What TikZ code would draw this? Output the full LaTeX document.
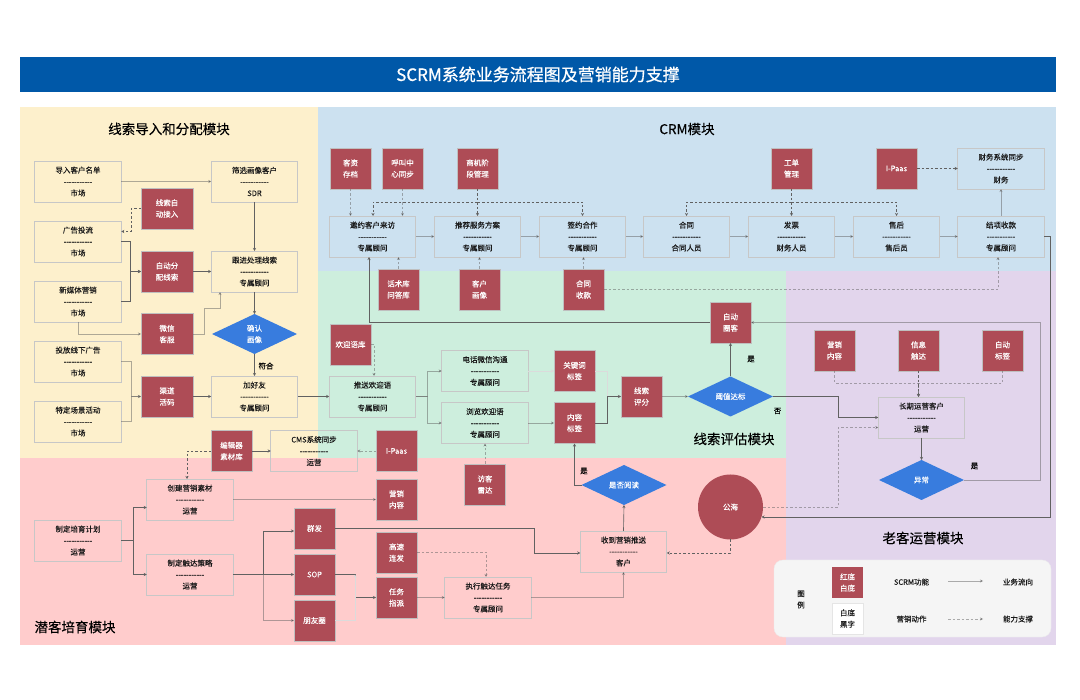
\documentclass[tikz,border=0pt]{standalone}
\usepackage{fontspec}
\setmainfont{Noto Sans CJK SC}[FakeBold=0.2]
\newfontfamily\titlefont{Noto Sans CJK SC}[FakeBold=0.7]
\newfontfamily\sectfont{Noto Sans CJK SC}[FakeBold=0.3]
\usetikzlibrary{arrows.meta,calc,shapes.geometric}
\definecolor{cyel}{HTML}{FDF0CC}
\definecolor{cblu}{HTML}{CCE1F0}
\definecolor{cgrn}{HTML}{CDEEDD}
\definecolor{cpur}{HTML}{E2D5EC}
\definecolor{cpnk}{HTML}{FFCCCC}
\definecolor{ctit}{HTML}{0058A8}
\definecolor{cred}{HTML}{AE4C56}
\definecolor{cdia}{HTML}{387CDE}
\newcommand\dl{-{}-{}-{}-{}-{}-{}-{}-{}-{}-{}-}
\tikzset{
  base/.style={inner sep=0pt,outer sep=0pt,align=center,font=\fontsize{7.5}{11.4}\selectfont,text=black!90},
  box/.style={base,draw=black!22,line width=.7pt,minimum width=86.5pt,minimum height=41pt},
  redbox/.style={base,fill=cred,draw=black!25,line width=.7pt,text=white,minimum width=41pt,minimum height=41pt},
  redwide/.style={redbox,minimum width=52pt},
  dia/.style={base,diamond,aspect=2.125,fill=cdia,text=white,minimum width=85pt,minimum height=40pt},
  seac/.style={base,circle,fill=cred,text=white,minimum size=65pt},
  sect/.style={base,font=\sectfont\fontsize{13.5}{16}\selectfont,text=black},
  lab/.style={base,text=black},
  flow/.style={draw=black!62,line width=.65pt,-{Stealth[length=3pt,width=3pt]}},
  flowl/.style={flow,draw opacity=.5},
  flowfaint/.style={flow,draw=black!14},
  supp/.style={draw=black!62,line width=.65pt,dash pattern=on 2.5pt off 2pt,-{Stealth[length=3pt,width=3pt]}},
  suppl/.style={supp,draw opacity=.5},
}
\begin{document}
\begin{tikzpicture}[x=1pt,y=-1pt]
\useasboundingbox (0,0) rectangle (1080,700);
\fill[white] (0,0) rectangle (1080,700);
% regions
\fill[cyel] (20,107) rectangle (318,458);
\fill[cblu] (318,107) rectangle (1056,271);
\fill[cgrn] (318,271) rectangle (786,458);
\fill[cpur] (786,271) rectangle (1056,645);
\fill[cpnk] (20,458) rectangle (786,645);
\node[base,fill=ctit,text=white,minimum width=1036pt,minimum height=35pt,font=\titlefont\fontsize{17}{20}\selectfont] (title) at (538,74.5) {SCRM系统业务流程图及营销能力支撑};
\node[sect] (s1) at (169,129) {线索导入和分配模块};
\node[sect] (s2) at (687,129) {CRM模块};
\node[sect] (s3) at (734,439) {线索评估模块};
\node[sect] (s4) at (923,538) {老客运营模块};
\node[sect] (s5) at (75,627) {潜客培育模块};
% yellow zone
\node[box] (imp) at (78,181.5) {导入客户名单\\\dl\\市场};
\node[box] (ad) at (78,241.5) {广告投流\\\dl\\市场};
\node[box] (nm) at (78,301.5) {新媒体营销\\\dl\\市场};
\node[box] (off) at (78,361.5) {投放线下广告\\\dl\\市场};
\node[box] (evt) at (78,421.5) {特定场景活动\\\dl\\市场};
\node[box] (sel) at (254.5,181.5) {筛选画像客户\\\dl\\SDR};
\node[box] (fol) at (254.5,271.5) {跟进处理线索\\\dl\\专属顾问};
\node[box] (add) at (254.5,396.5) {加好友\\\dl\\专属顾问};
\node[redwide] (lea) at (167,208.5) {线索自\\动接入};
\node[redwide] (aut) at (167,271.5) {自动分\\配线索};
\node[redwide] (wx) at (167,334) {微信\\客服};
\node[redwide] (chn) at (167,396.5) {渠道\\活码};
\node[dia] (conf) at (254.5,334) {确认\\画像};
\node[redbox] (edit) at (231.5,451) {编辑器\\素材库};
\node[box] (cms) at (314,451) {CMS系统同步\\\dl\\运营};
% CRM zone
\node[box] (inv) at (372.5,236.5) {邀约客户来访\\\dl\\专属顾问};
\node[box] (rec) at (477.5,236.5) {推荐服务方案\\\dl\\专属顾问};
\node[box] (sgn) at (582.5,236.5) {签约合作\\\dl\\专属顾问};
\node[box] (con) at (686.5,236.5) {合同\\\dl\\合同人员};
\node[box] (bil) at (791.5,236.5) {发票\\\dl\\财务人员};
\node[box] (aft) at (896.5,236.5) {售后\\\dl\\售后员};
\node[box] (clo) at (1001,236.5) {结项收款\\\dl\\专属顾问};
\node[box] (fin) at (1001,168.5) {财务系统同步\\\dl\\财务};
\node[redbox] (kz) at (350.5,168.5) {客资\\存档};
\node[redbox] (call) at (402.5,168.5) {呼叫中\\心同步};
\node[redbox] (opp) at (477.5,168.5) {商机阶\\段管理};
\node[redbox] (wo) at (791.5,168.5) {工单\\管理};
\node[redbox] (ip1) at (896.5,168.5) {I-Paas};
\node[redbox] (talk) at (398.5,289.5) {话术库\\问答库};
\node[redbox] (por) at (479.5,289.5) {客户\\画像};
\node[redbox] (pay) at (583.5,289.5) {合同\\收款};
% green zone
\node[redbox] (welc) at (350.5,344.5) {欢迎语库};
\node[box] (push) at (372.5,396.5) {推送欢迎语\\\dl\\专属顾问};
\node[box] (tel) at (485,371) {电话微信沟通\\\dl\\专属顾问};
\node[box] (brw) at (485,423) {浏览欢迎语\\\dl\\专属顾问};
\node[redbox] (kw) at (574.5,371) {关键词\\标签};
\node[redbox] (ct) at (574.5,423) {内容\\标签};
\node[redbox] (sco) at (641.5,396.5) {线索\\评分};
\node[dia] (thr) at (730.5,396.5) {阈值达标};
\node[redbox] (auto) at (730.5,322.5) {自动\\圈客};
% pink zone
\node[redbox] (ip2) at (396.5,451) {I-Paas};
\node[redbox] (mc) at (396.5,499.5) {营销\\内容};
\node[redbox] (rad) at (485,484.5) {访客\\雷达};
\node[dia] (read) at (624,485) {是否阅读};
\node[box] (recv) at (623.5,551.5) {收到营销推送\\\dl\\客户};
\node[box] (exe) at (488,597.5) {执行触达任务\\\dl\\专属顾问};
\node[redbox] (fast) at (396.5,552.5) {高速\\连发};
\node[redbox] (asg) at (396.5,597.5) {任务\\指派};
\node[redbox] (qf) at (314.5,528.5) {群发};
\node[redbox] (sop) at (314.5,574.5) {SOP};
\node[redbox] (pyq) at (314.5,620.5) {朋友圈};
\node[box] (crt) at (190,499.5) {创建营销素材\\\dl\\运营};
\node[box] (pln) at (78,540.5) {制定培育计划\\\dl\\运营};
\node[box] (stg) at (190,574.5) {制定触达策略\\\dl\\运营};
\node[seac] (sea) at (730.5,507) {公海};
% purple zone
\node[redbox] (m2) at (834.5,350.5) {营销\\内容};
\node[redbox] (inf) at (918.5,350.5) {信息\\触达};
\node[redbox] (tag) at (1002.5,350.5) {自动\\标签};
\node[box] (lng) at (921.5,417.5) {长期运营客户\\\dl\\运营};
\node[dia] (ex) at (921.5,480) {异常};
% labels
\node[lab] (l1) at (266,366) {符合};
\node[lab] (l2) at (751,359) {是};
\node[lab] (l3) at (777.5,411) {否};
\node[lab] (l4) at (974.5,466) {是};
\node[lab] (l5) at (584,471) {是};
% business flow
\draw[flowl] (imp.east) -- (sel.west);
\draw[flow] (sel.south) -- (fol.north);
\draw[flow] (ad.east) -- ++(9,0) |- (aut.west);
\draw[flow] (nm.east) -- ++(9,0) |- (aut.west);
\draw[flow] (aut.east) -- (fol.west);
\draw[flowl] (nm.south) |- (wx.west);
\draw[flowl] (wx.east) -- ++(11,0) -- ++(0,-26) -| ($(fol.south)+(-34.5,0)$);
\draw[flow] (fol.south) -- (conf.north);
\draw[flow] (conf.south) -- (add.north);
\draw[flowl] (off.east) -- ++(10,0) |- (chn.west);
\draw[flowl] (evt.east) -- ++(10,0) |- (chn.west);
\draw[flow] (chn.east) -- (add.west);
\draw[flow] (add.east) -- (push.west);
\draw[flowl] (push.east) -- ++(12,0) |- (tel.west);
\draw[flowl] (push.east) -- ++(12,0) |- (brw.west);
\draw[flowfaint] (tel.east) -- (kw.west);
\draw[flowl] (brw.east) -- (ct.west);
\draw[flowfaint] (kw.east) -- ++(12,0) |- (sco.west);
\draw[flow] (ct.east) -- ++(12,0) |- (sco.west);
\draw[flowl] (sco.east) -- (thr.west);
\draw[flow] (thr.north) -- (auto.south);
\draw[flow] (thr.east) -- ++(65,0) |- (lng.west);
\draw[flow] (auto.west) -| ($(inv.south)+(-3.5,0)$);
\draw[flowl] (ex.east) -- ++(76.5,0) |- (auto.east);
\draw[flow] (clo.east) -- ++(6,0) |- ($(sea.center)+(31,10)$);
\draw[flow] (lng.south) -- (ex.north);
\draw[flowl] (inv.east) -- (rec.west);
\draw[flowl] (rec.east) -- (sgn.west);
\draw[flowl] (sgn.east) -- (con.west);
\draw[flowl] (con.east) -- (bil.west);
\draw[flowl] (bil.east) -- (aft.west);
\draw[flowl] (aft.east) -- (clo.west);
\draw[flowl] (clo.north) -- (fin.south);
\draw[flow] (edit.east) -- (cms.west);
\draw[flowl] (crt.east) -- (mc.west);
\draw[flow] (pln.east) -- ++(12,0) |- ($(crt.west)+(0,8)$);
\draw[flow] (pln.east) -- ++(12,0) |- (stg.west);
\draw[flow] (stg.east) -- ++(30,0) |- ($(qf.west)+(0,2.5)$);
\draw[flow] (stg.east) -- (sop.west);
\draw[flowl] (stg.east) -- ++(30,0) |- (pyq.west);
\draw[flow] (qf.east) -- ++(199,0) |- ($(recv.west)+(0,1.5)$);
\draw[flow] (sop.east) -- ++(20,0) |- (asg.west);
\draw[flowfaint] (pyq.east) -- ++(20,0) -- ($(sop.east)+(20,0)$);
\draw[flowl] (asg.east) -- (exe.west);
\draw[flowl] (exe.east) -| (recv.south);
\draw[flow] (recv.north) -- (read.south);
\draw[flow] (read.west) -| (ct.south);
% capability support
\draw[supp] (lea.west) -- ++(-10,0) |- ($(ad.east)+(0,-10)$);
\draw[suppl] (kz.south) -- ($(inv.north)+(-22,0)$);
\draw[suppl] (call.south) -- ($(inv.north)+(30,0)$);
\draw[supp] (opp.south) -- (rec.north);
\draw[supp] ($(opp.south)+(0,13)$) -| ($(inv.north)+(0.5,0)$);
\draw[supp] ($(opp.south)+(0,13)$) -| (sgn.north);
\draw[supp] (wo.south) -- (bil.north);
\draw[supp] ($(wo.south)+(0,13)$) -| (con.north);
\draw[supp] ($(wo.south)+(0,13)$) -| (aft.north);
\draw[supp] (ip1.east) -- (fin.west);
\draw[suppl] (talk.north) -- ($(inv.south)+(26,0)$);
\draw[suppl] (por.north) -- ($(rec.south)+(2,0)$);
\draw[suppl] (pay.north) -- ($(sgn.south)+(1,0)$);
\draw[suppl] (pay.east) -| ($(clo.south)+(-3,0)$);
\draw[suppl] (welc.east) -| ($(push.north)+(1.5,0)$);
\draw[supp] (edit.west) -| ($(crt.north)+(-3,0)$);
\draw[suppl] (ip2.west) -- (cms.east);
\draw[suppl] (rad.north) -- (brw.south);
\draw[suppl] (fast.east) -| ($(exe.north)+(-2,0)$);
\draw[supp] (sea.south) |- ($(recv.east)+(0,1.5)$);
\draw[suppl] (sea.east) -- ++(75,0) |- ($(lng.west)+(0,10)$);
\draw[suppl] (m2.south) -- ++(0,12) -| ($(lng.north)+(-3,0)$);
\draw[supp] (inf.south) -- ($(lng.north)+(-3,0)$);
\draw[suppl] (tag.south) -- ++(0,12) -| ($(lng.north)+(-3,0)$);
% legend
\node[base,fill=black!4,draw=black!7,rounded corners=9pt,minimum width=277pt,minimum height=77pt] (leg) at (912.5,598.5) {};
\node[base] (lg0) at (801,599.5) {图\\例};
\node[redbox,minimum width=31pt,minimum height=31pt,draw=none] (lg1) at (847.5,582.5) {红底\\白底};
\node[base,fill=white,draw=black!10,minimum width=31pt,minimum height=31pt] (lg2) at (847.5,618.5) {白底\\黑字};
\node[base] (lg3) at (911.5,582) {SCRM功能};
\node[base] (lg4) at (911.5,619) {营销动作};
\node[base] (lg5) at (1018,582) {业务流向};
\node[base] (lg6) at (1018,619) {能力支撑};
\coordinate (la1) at (948,581);
\coordinate (la2) at (983,581);
\coordinate (lb1) at (948,619);
\coordinate (lb2) at (983,619);
\draw[flowl] (la1) -- (la2);
\draw[suppl] (lb1) -- (lb2);
\end{tikzpicture}
\end{document}
